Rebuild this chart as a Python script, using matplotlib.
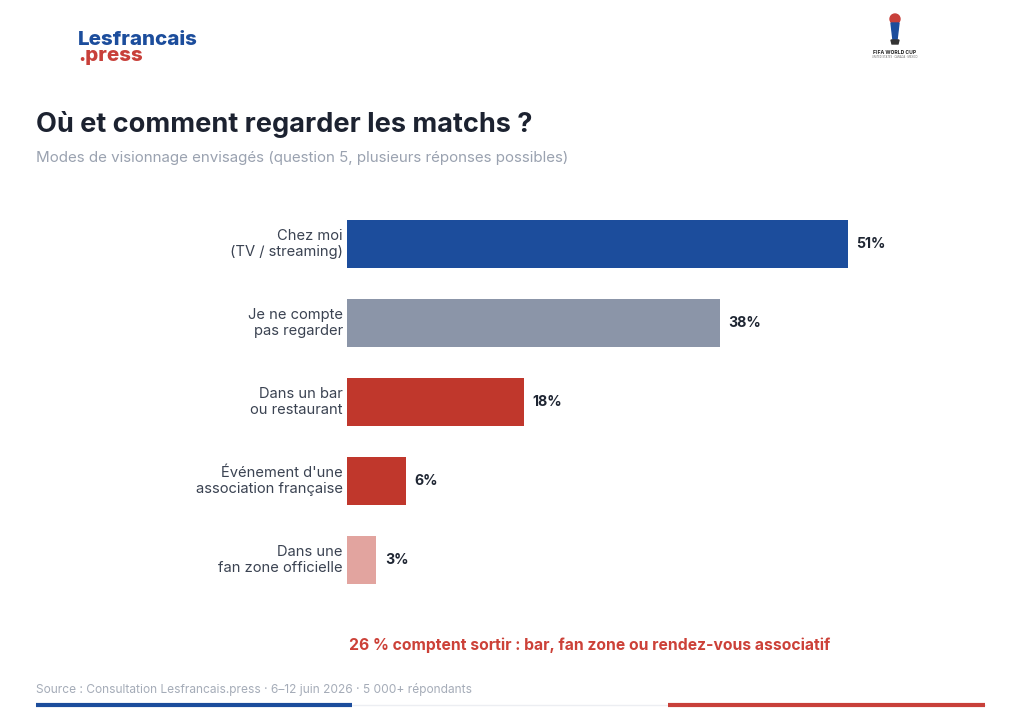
import matplotlib
matplotlib.use("Agg")
import matplotlib.pyplot as plt
from matplotlib.patches import Circle, Polygon

plt.rcParams['font.family'] = ['Inter', 'DejaVu Sans']

categories = ["Chez moi\n(TV / streaming)", "Je ne compte\npas regarder", "Dans un bar\nou restaurant",
              "Événement d'une\nassociation française", "Dans une\nfan zone officielle"]
values = [51, 38, 18, 6, 3]
value_labels = ["51%", "38%", "18%", "6%", "3%"]
colors = ["#1c4d9c", "#8b95a8", "#c0372c", "#c0372c", "#e2a49f"]

W, H = 1024, 723
fig = plt.figure(figsize=(W / 100, H / 100), dpi=100)
fig.patch.set_facecolor("white")

def fx(px): return px / W
def fy(py): return 1 - py / H

ax = fig.add_axes([fx(347), fy(599.5), fx(985) - fx(347), 395 / H])
ypos = list(range(len(values)))
ax.barh(ypos, values, height=0.61, color=colors, align='center')
ax.set_xlim(0, 65)
ax.set_ylim(len(values) - 0.5, -0.5)
ax.axis('off')
for y, v, lab, cat in zip(ypos, values, value_labels, categories):
    ax.annotate(lab, (v, y), xytext=(6, 0), textcoords='offset points', va='center', ha='left',
                fontsize=10.2, fontweight='bold', color='#1f2633')
    ax.annotate(cat, (0, y), xytext=(-3, 0), textcoords='offset points', va='center', ha='right',
                fontsize=10.6, color='#3b4352', linespacing=1.25)

# Title / subtitle
fig.text(fx(36), fy(124), "Où et comment regarder les matchs ?", fontsize=19.5, fontweight='bold',
         color='#1c2230', va='center', ha='left')
fig.text(fx(36), fy(158), "Modes de visionnage envisagés (question 5, plusieurs réponses possibles)",
         fontsize=10.9, color='#9aa2b0', va='center', ha='left')

# Logo
fig.text(fx(78), fy(40), "Lesfrancais", fontsize=14.8, fontweight='heavy', color='#1c4d9c', va='center', ha='left')
fig.text(fx(78), fy(56), ".press", fontsize=14.8, fontweight='heavy', color='#c8403a', va='center', ha='left')

# FIFA logo (simple)
la = fig.add_axes([fx(870), fy(66), fx(50), 56 / H])
la.set_xlim(0, 50); la.set_ylim(0, 56); la.axis('off')
la.add_patch(Circle((25, 47), 5, color='#c8403a'))
la.add_patch(Polygon([[21, 43], [29, 43], [27, 26], [23, 26]], color='#1c4d9c'))
la.add_patch(Polygon([[21, 26], [29, 26], [28, 22], [22, 22]], color='#333333'))
la.text(25, 14, "FIFA WORLD CUP", fontsize=3.6, fontweight='bold', ha='center', va='center', color='#222')
la.text(25, 9, "UNITED STATES · CANADA · MEXICO", fontsize=1.8, ha='center', va='center', color='#666')

# Annotation
fig.text(fx(590), fy(645), "26 % comptent sortir : bar, fan zone ou rendez-vous associatif",
         fontsize=11.3, fontweight='bold', color='#cc4138', va='center', ha='center')

# Source
fig.text(fx(36), fy(690), "Source : Consultation Lesfrancais.press · 6–12 juin 2026 · 5 000+ répondants",
         fontsize=8.6, color='#a5acb8', va='center', ha='left')

# Bottom bars
fig.add_artist(plt.Line2D([fx(36), fx(985)], [fy(705), fy(705)], color='#eceef2', lw=1))
fig.add_artist(plt.Line2D([fx(36), fx(352)], [fy(705), fy(705)], color='#1c4d9c', lw=3, solid_capstyle='butt'))
fig.add_artist(plt.Line2D([fx(668), fx(985)], [fy(705), fy(705)], color='#c8403a', lw=3, solid_capstyle='butt'))

fig.savefig("out.png", dpi=100, facecolor='white')
